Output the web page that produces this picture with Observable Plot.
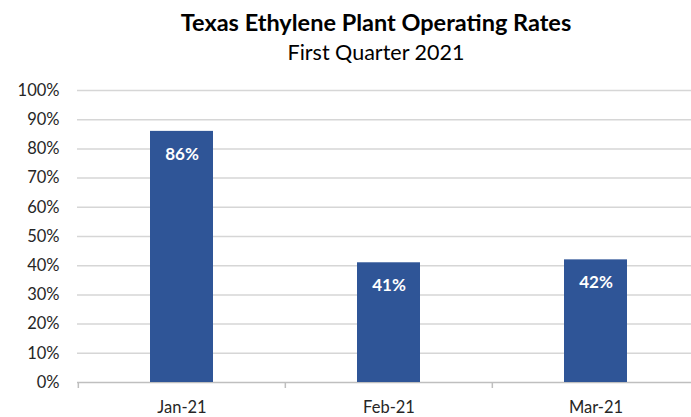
<!DOCTYPE html>
<html><head><meta charset="utf-8">
<script src="https://cdn.jsdelivr.net/npm/d3@7"></script>
<script src="https://cdn.jsdelivr.net/npm/@observablehq/plot@0.6"></script>
<style>
body{margin:0;background:#fff;font-family:Lato,"Open Sans",sans-serif;}
#wrap{width:691px;height:417px;position:relative;overflow:hidden;}
#title{position:absolute;left:0;width:752px;top:8px;text-align:center;font-weight:bold;font-size:23.5px;color:#000;}
#subtitle{position:absolute;left:0;width:752px;top:39px;text-align:center;font-size:21.5px;color:#000;}
#chart{position:absolute;left:0;top:70px;}
</style></head>
<body><div id="wrap"><div id="title">Texas Ethylene Plant Operating Rates</div><div id="subtitle">First Quarter 2021</div><div id="chart"></div></div>
<script>
const months = ["Jan-21", "Feb-21", "Mar-21"];
const rates = [0.86, 0.41, 0.42];
const yTicks = [0, 0.1, 0.2, 0.3, 0.4, 0.5, 0.6, 0.7, 0.8, 0.9, 1.0];

const data = months.map((m, i) => ({month: m, rate: rates[i]}));
const step = (699 - 77) / months.length;

const plot = Plot.plot({
  width: 691,
  height: 347,
  marginLeft: 77,
  marginRight: 0,
  marginTop: 20,
  marginBottom: 35,
  style: {fontFamily: "Lato, 'Open Sans', sans-serif", fontSize: "16px", color: "#262626", background: "white"},
  x: {domain: months, range: [77, 699], padding: 0, label: null},
  y: {domain: [0, 1], label: null},
  marks: [
    Plot.ruleY(yTicks.filter(d => d > 0), {stroke: "#d6d6d6", strokeWidth: 1.5}),
    Plot.ruleY([0], {stroke: "#bfbfbf", strokeWidth: 1.5}),
    Plot.ruleX(months, {x: d => d, y1: 0, y2: 0, dx: -step / 2, stroke: "#bfbfbf", strokeWidth: 1.5, insetBottom: -6}),
    Plot.ruleX([months[months.length - 1]], {x: d => d, y1: 0, y2: 0, dx: step / 2, stroke: "#bfbfbf", strokeWidth: 1.5, insetBottom: -6}),
    Plot.barY(data, {x: "month", y: "rate", fill: "#2F5597", insetLeft: 72, insetRight: 72}),
    Plot.text(data, {x: "month", y: "rate", text: d => Math.round(d.rate * 100) + "%", fill: "white", fontWeight: "bold", fontSize: 17, dy: 23}),
    Plot.axisY(yTicks, {tickFormat: d => Math.round(d * 100) + "%", tickSize: 0, tickPadding: 18, fontSize: 16.5, fill: "#262626"}),
    Plot.axisX({tickSize: 0, tickPadding: 19, fontSize: 16.5, fill: "#262626"})
  ]
});
document.getElementById("chart").appendChild(plot);
</script></body></html>
